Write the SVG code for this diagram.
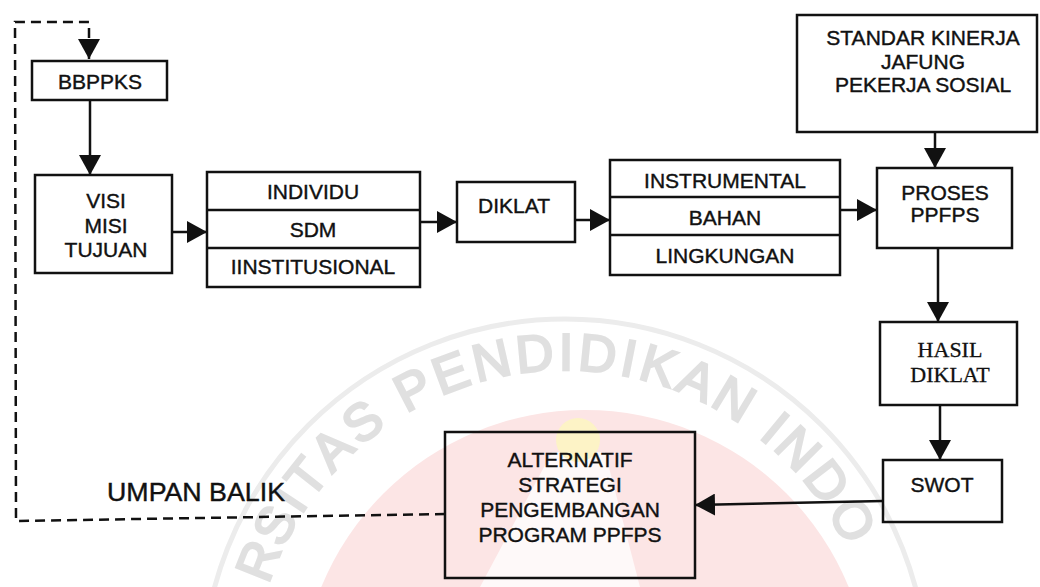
<svg xmlns="http://www.w3.org/2000/svg" width="1040" height="587" viewBox="0 0 1040 587">
<style>
.box{fill:none;stroke:#111;stroke-width:2.5}
.sep{stroke:#111;stroke-width:2.5}
.t{font-family:"Liberation Sans",Arial,sans-serif;font-size:21px;fill:#111;stroke:#111;stroke-width:0.4;text-anchor:middle}
.s{font-family:"Liberation Serif","Times New Roman",serif;font-size:22px;fill:#111;stroke:#111;stroke-width:0.3;text-anchor:middle}
.c{fill:none;stroke:#111;stroke-width:2.5}
.d{fill:none;stroke:#111;stroke-width:2.5;stroke-dasharray:10 6}
.wm{font-family:"Liberation Sans",Arial,sans-serif;font-size:52px;fill:#e0e0e0;stroke:#e0e0e0;stroke-width:2.5;text-anchor:middle}
</style>
<defs>
<marker id="ah" markerUnits="userSpaceOnUse" markerWidth="20" markerHeight="22" refX="20" refY="11" orient="auto" viewBox="0 0 20 22">
<path d="M0,0 L20,11 L0,22 Z" fill="#111"/>
</marker>
</defs>
<rect width="1040" height="587" fill="#fff"/>
<g id="watermark">
<circle cx="585" cy="695" r="285" fill="#fce5e5"/>
<path d="M 480 587 L 552 452 L 605 452 L 640 587 Z" fill="#fff" opacity="0.75"/>
<circle cx="578" cy="440" r="22" fill="#fdf3c6"/>
<circle cx="565" cy="682" r="363" fill="none" stroke="#ececec" stroke-width="5"/>
<text class="wm" x="565" y="370" transform="rotate(-68.4 565 682)">R</text>
<text class="wm" x="565" y="370" transform="rotate(-61.6 565 682)">S</text>
<text class="wm" x="565" y="370" transform="rotate(-56.5 565 682)">I</text>
<text class="wm" x="565" y="370" transform="rotate(-51.6 565 682)">T</text>
<text class="wm" x="565" y="370" transform="rotate(-45 565 682)">A</text>
<text class="wm" x="565" y="370" transform="rotate(-37.9 565 682)">S</text>
<text class="wm" x="565" y="370" transform="rotate(-27.4 565 682)">P</text>
<text class="wm" x="565" y="370" transform="rotate(-20.3 565 682)">E</text>
<text class="wm" x="565" y="370" transform="rotate(-12.9 565 682)">N</text>
<text class="wm" x="565" y="370" transform="rotate(-5.3 565 682)">D</text>
<text class="wm" x="565" y="370" transform="rotate(0.2 565 682)">I</text>
<text class="wm" x="565" y="370" transform="rotate(5.7 565 682)">D</text>
<text class="wm" x="565" y="370" transform="rotate(11.2 565 682)">I</text>
<text class="wm" x="565" y="370" transform="rotate(16.5 565 682)">K</text>
<text class="wm" x="565" y="370" transform="rotate(23.6 565 682)">A</text>
<text class="wm" x="565" y="370" transform="rotate(30.9 565 682)">N</text>
<text class="wm" x="565" y="370" transform="rotate(39.6 565 682)">I</text>
<text class="wm" x="565" y="370" transform="rotate(45 565 682)">N</text>
<text class="wm" x="565" y="370" transform="rotate(52.6 565 682)">D</text>
<text class="wm" x="565" y="370" transform="rotate(60.6 565 682)">O</text>
</g>
<g id="connectors">
<path class="d" d="M 445 514 L 16 521 L 15 22 L 89 22 L 89 40"/>
<path class="c" d="M 89 40 L 89 59" marker-end="url(#ah)"/>
<path class="c" d="M 90 100 L 90 175" marker-end="url(#ah)"/>
<path class="c" d="M 172 232 L 207 232" marker-end="url(#ah)"/>
<path class="c" d="M 420 222 L 457 222" marker-end="url(#ah)"/>
<path class="c" d="M 575 220 L 610 220" marker-end="url(#ah)"/>
<path class="c" d="M 840 210 L 877 210" marker-end="url(#ah)"/>
<path class="c" d="M 935 132 L 935 168" marker-end="url(#ah)"/>
<path class="c" d="M 938 248 L 938 322" marker-end="url(#ah)"/>
<path class="c" d="M 940 405 L 940 460" marker-end="url(#ah)"/>
<path class="c" d="M 883 501 L 695 505" marker-end="url(#ah)"/>
</g>
<g id="bbppks">
<rect class="box" x="32" y="61" width="135" height="39"/>
<text class="t" x="100" y="89">BBPPKS</text>
</g>
<g id="visi">
<rect class="box" x="35" y="175" width="137" height="98"/>
<text class="t" x="106" y="208">VISI</text>
<text class="t" x="106" y="233">MISI</text>
<text class="t" x="106" y="257">TUJUAN</text>
</g>
<g id="sdm">
<rect class="box" x="207" y="172" width="213" height="115"/>
<line class="sep" x1="207" y1="210" x2="420" y2="210"/>
<line class="sep" x1="207" y1="248" x2="420" y2="248"/>
<text class="t" x="313" y="199">INDIVIDU</text>
<text class="t" x="313" y="237">SDM</text>
<text class="t" x="313" y="274">IINSTITUSIONAL</text>
</g>
<g id="diklat">
<rect class="box" x="457" y="182" width="118" height="60"/>
<text class="t" x="514" y="213">DIKLAT</text>
</g>
<g id="komponen">
<rect class="box" x="610" y="160" width="230" height="115"/>
<line class="sep" x1="610" y1="197" x2="840" y2="197"/>
<line class="sep" x1="610" y1="235" x2="840" y2="235"/>
<text class="t" x="725" y="188">INSTRUMENTAL</text>
<text class="t" x="725" y="225">BAHAN</text>
<text class="t" x="725" y="263">LINGKUNGAN</text>
</g>
<g id="standar">
<rect class="box" x="797" y="15" width="240" height="117"/>
<text class="t" x="923" y="45">STANDAR KINERJA</text>
<text class="t" x="923" y="69">JAFUNG</text>
<text class="t" x="923" y="92">PEKERJA SOSIAL</text>
</g>
<g id="proses">
<rect class="box" x="877" y="168" width="135" height="80"/>
<text class="t" x="945" y="200">PROSES</text>
<text class="t" x="945" y="222">PPFPS</text>
</g>
<g id="hasil">
<rect class="box" x="880" y="322" width="137" height="83"/>
<text class="s" x="950" y="357">HASIL</text>
<text class="s" x="950" y="382">DIKLAT</text>
</g>
<g id="swot">
<rect class="box" x="883" y="460" width="119" height="62"/>
<text class="t" x="942" y="492">SWOT</text>
</g>
<g id="alternatif">
<rect class="box" x="445" y="432" width="250" height="146"/>
<text class="t" x="570" y="467">ALTERNATIF</text>
<text class="t" x="570" y="492">STRATEGI</text>
<text class="t" x="570" y="517">PENGEMBANGAN</text>
<text class="t" x="570" y="542">PROGRAM PPFPS</text>
</g>
<g id="label">
<text class="t" x="107" y="501" style="text-anchor:start;font-size:25px" textLength="178" lengthAdjust="spacingAndGlyphs">UMPAN BALIK</text>
</g>
</svg>
